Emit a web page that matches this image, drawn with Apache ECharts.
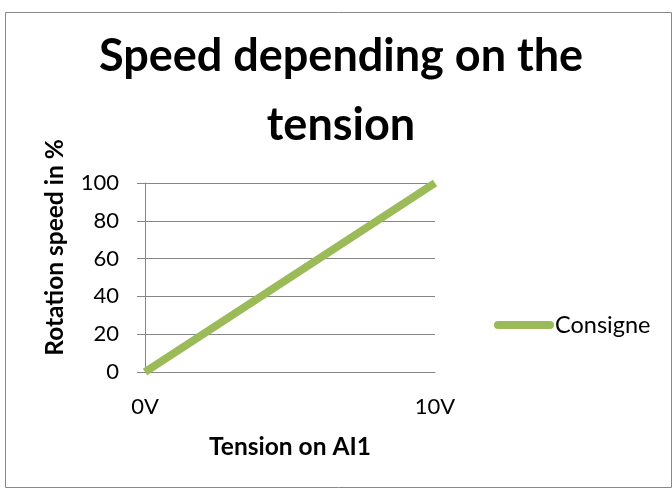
<!DOCTYPE html>
<html>
<head>
<meta charset="utf-8">
<script src="https://cdn.jsdelivr.net/npm/echarts@6/dist/echarts.min.js"></script>
<style>
  html, body { margin: 0; padding: 0; background: #fff; }
  #chart { width: 672px; height: 488px; }
</style>
</head>
<body>
<div id="chart"></div>
<script>
// data
var categories = ['0V', '10V'];
var consigne = [0, 100];
var yTicks = [0, 20, 40, 60, 80, 100];

var fontName = 'Lato';
var gridColor = '#868686';

var chart = echarts.init(document.getElementById('chart'));
chart.setOption({
    animation: false,
    textStyle: { fontFamily: fontName },
    title: {
        text: 'Speed depending on the\ntension',
        left: 341,
        textAlign: 'center',
        top: 22,
        padding: 0,
        textStyle: {
            fontFamily: fontName,
            fontSize: 45,
            fontWeight: 'bold',
            lineHeight: 69,
            color: '#000'
        }
    },
    // outer frame of the chart
    graphic: [{
        type: 'rect',
        shape: { x: 5.5, y: 12.5, width: 666, height: 475 },
        style: { fill: 'none', stroke: '#898989', lineWidth: 1 },
        silent: true
    }],
    legend: {
        data: ['Consigne'],
        left: 494,
        top: 313,
        padding: 0,
        itemWidth: 60,
        itemHeight: 8,
        itemGap: 2,
        icon: 'path://M4,0 L56,0 A4,4 0 0 1 56,8 L4,8 A4,4 0 0 1 4,0 Z',
        textStyle: { fontFamily: fontName, fontSize: 23.5, color: '#000', padding: [0, 0, 0, -4] }
    },
    grid: {
        left: 145,
        right: 237,
        top: 183,
        bottom: 116
    },
    xAxis: {
        type: 'category',
        data: categories,
        boundaryGap: false,
        name: 'Tension on AI1',
        nameLocation: 'middle',
        nameGap: 63,
        nameTextStyle: { fontFamily: fontName, fontSize: 24.5, fontWeight: 'bold', color: '#000' },
        axisLine: { show: true, lineStyle: { color: gridColor, width: 1 } },
        axisTick: { show: false },
        axisLabel: { margin: 24, fontSize: 22, color: '#000', fontFamily: fontName },
        splitLine: { show: false }
    },
    yAxis: {
        type: 'value',
        min: yTicks[0],
        max: yTicks[yTicks.length - 1],
        interval: yTicks[1] - yTicks[0],
        name: 'Rotation speed in %',
        nameLocation: 'middle',
        nameRotate: 90,
        nameGap: 77,
        nameTextStyle: {
            fontFamily: fontName, fontSize: 24.5, fontWeight: 'bold', color: '#000',
            padding: [0, 0, 0, 60]
        },
        axisLine: { show: true, lineStyle: { color: gridColor, width: 1 } },
        axisTick: { show: true, length: 8, lineStyle: { color: gridColor } },
        axisLabel: { margin: 26, fontSize: 22, color: '#000', fontFamily: fontName },
        splitLine: { show: true, lineStyle: { color: gridColor, width: 1 } }
    },
    series: [{
        name: 'Consigne',
        type: 'line',
        data: consigne,
        symbol: 'none',
        color: '#9BBB59',
        lineStyle: { color: '#9BBB59', width: 8 }
    }]
});
</script>
</body>
</html>
